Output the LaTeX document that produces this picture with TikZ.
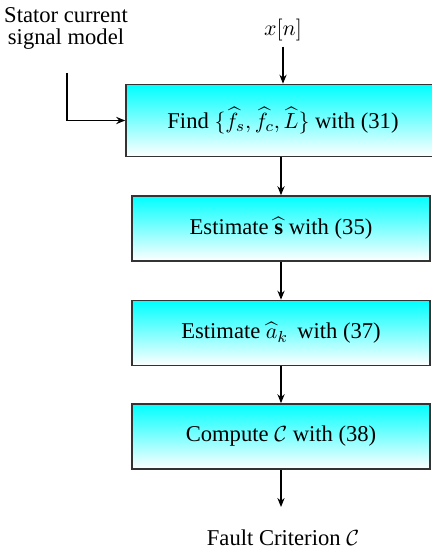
\documentclass[tikz,border=0pt]{standalone}
\usepackage{amsmath,amssymb}
\usepackage{fontspec}
\setmainfont{Liberation Serif}
\usetikzlibrary{arrows.meta,positioning}

\begin{document}
\begin{tikzpicture}[>={Stealth[length=4.5pt,width=3.6pt]},x=0.5pt,y=-0.5pt,
          font=\fontsize{11.3pt}{11pt}\selectfont,
          blk/.style={draw=black!80,line width=0.8pt,top color=cyan,bottom color=white,
            minimum width=149pt,minimum height=32.5pt,inner sep=0pt},
          lbl/.style={inner sep=0pt,align=center},
          every path/.style={line width=0.6pt}]
        \useasboundingbox (0,0) rectangle (432,550);
        \node[lbl,inner sep=2.5pt] (xn) at (283,30) {$x[n]$};
        \node[lbl] (model) at (66,28) {Stator current\\signal model};
        \coordinate (min) at (67,73);
        \node[blk,minimum width=157pt,minimum height=36pt] (b1) at (283,120.5)
          {Find $\{\widehat{f_s},\widehat{f_c},\widehat{L}\}$ with (31)};
        \node[blk] (b2) at (281,228.5) {Estimate $\widehat{\mathbf{s}}$ with (35)};
        \node[blk] (b3) at (281,333) {Estimate $\widehat{a}_k$\, with (37)};
        \node[blk] (b4) at (281,436.5) {Compute $\mathcal{C}$ with (38)};
        \coordinate (out) at (281,507);
        \node[lbl] (fc) at (283,538) {Fault Criterion $\mathcal{C}$};
        \draw[->] (xn.south) -- (b1.north);
        \draw[->] (min) |- (b1.west);
        \draw[->] (b1.south -| b2) -- (b2);
        \draw[->] (b2)--(b3); \draw[->] (b3)--(b4);
        \draw[->] (b4)--(out);
      \end{tikzpicture}
\end{document}
